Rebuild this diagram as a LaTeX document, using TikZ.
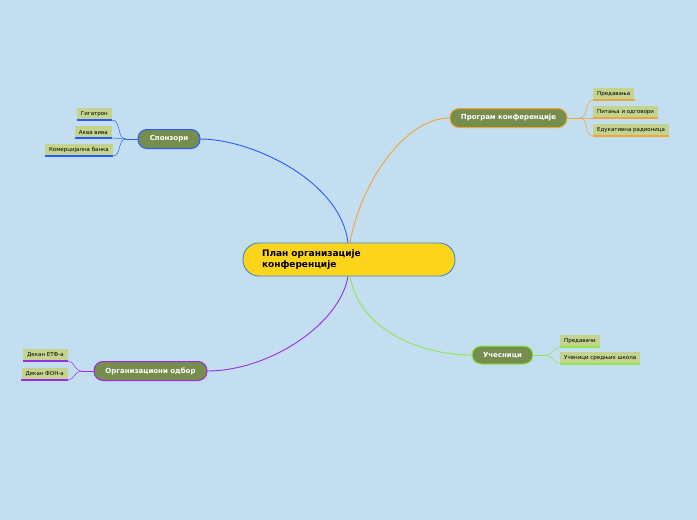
\documentclass[tikz,border=0pt]{standalone}
\usepackage{fontspec}
\setmainfont{DejaVu Sans}
\usetikzlibrary{positioning,calc}
\definecolor{bgBlue}{HTML}{C3DEF1}
\definecolor{mainYellow}{HTML}{FCD41C}
\definecolor{mainBorder}{HTML}{3C8FC6}
\definecolor{branchOlive}{HTML}{778D4E}
\definecolor{leafGreen}{HTML}{C4D48E}
\definecolor{lineBlue}{HTML}{2A5BFF}
\definecolor{lineOrange}{HTML}{F2A534}
\definecolor{linePurple}{HTML}{9C2BEA}
\definecolor{lineGreen}{HTML}{8EE84A}

\begin{document}
\begin{tikzpicture}[
    x=1pt, y=1pt,
    mainNode/.style={draw=mainBorder, line width=0.9pt, fill=mainYellow, rounded corners=16pt,
        minimum width=212pt, minimum height=33pt, text width=174pt, inner xsep=19pt,
        align=left, font=\fontsize{9}{11.5}\selectfont\bfseries},
    branchNode/.style={line width=1pt, fill=branchOlive, rounded corners=9pt, text=white,
        minimum height=19pt, inner xsep=0pt, font=\fontsize{7}{8}\selectfont\bfseries},
    leafNode/.style={fill=leafGreen, minimum height=11.5pt, inner xsep=4pt, inner ysep=0pt,
        font=\fontsize{5.5}{6}\selectfont},
    link/.style={line width=0.9pt},
    twig/.style={line width=0.5pt},
    under/.style={line width=1.3pt}
]
    % Sfondo
    \fill[bgBlue] (0,0) rectangle (697,-520);

    % Nodo centrale
    \node[mainNode] (main) at (349,-259.5) {План организације\\конференције};

    % Rami principali
    \node[branchNode, draw=lineBlue, minimum width=62pt] (spon) at (169,-139) {Спонзори};
    \node[branchNode, draw=lineOrange, minimum width=117pt] (prog) at (508.5,-118) {Програм конференције};
    \node[branchNode, draw=linePurple, minimum width=113pt] (org) at (150.5,-371) {Организациони одбор};
    \node[branchNode, draw=lineGreen, minimum width=61pt, minimum height=18pt] (uces) at (502.5,-355) {Учесници};

    % Collegamenti dal centro
    \draw[link, lineBlue] ($(main.north)+(-1,0)$) to[out=97, in=0, out distance=63, in distance=50] (spon.east);
    \draw[link, lineOrange] ($(main.north)+(1,0)$) to[out=80, in=180, out distance=60, in distance=45] (prog.west);
    \draw[link, linePurple] ($(main.south)+(-1,0)$) to[out=-100, in=0, out distance=50, in distance=60] (org.east);
    \draw[link, lineGreen] ($(main.south)+(1,0)$) to[out=-80, in=180, out distance=55, in distance=50] (uces.west);

    % Foglie: Спонзори
    \node[leafNode, anchor=south east] (gig) at (112,-120) {Гигатрон};
    \node[leafNode, anchor=south east] (akva) at (112,-138) {Аква вива};
    \node[leafNode, anchor=south east] (kom) at (113,-156) {Комерцијална банка};
    \coordinate (jSpon) at (126,-139);
    \draw[twig, lineBlue] (spon.west) -- (jSpon);
    \foreach \leaf in {gig, akva, kom} {
        \draw[twig, lineBlue] (jSpon) to[out=180, in=0] (\leaf.south east);
        \draw[under, lineBlue] (\leaf.south west) -- (\leaf.south east);
    }

    % Foglie: Програм конференције
    \node[leafNode, anchor=south west] (pred) at (593,-100) {Предавања};
    \node[leafNode, anchor=south west] (pit) at (593,-118) {Питања и одговори};
    \node[leafNode, anchor=south west] (eduk) at (593,-136) {Едукативна радионица};
    \coordinate (jProg) at (580,-118);
    \draw[twig, lineOrange] (prog.east) -- (jProg);
    \foreach \leaf in {pred, pit, eduk} {
        \draw[twig, lineOrange] (jProg) to[out=0, in=180] (\leaf.south west);
        \draw[under, lineOrange] (\leaf.south west) -- (\leaf.south east);
    }

    % Foglie: Организациони одбор
    \node[leafNode, anchor=south east] (etf) at (68,-361) {Декан ЕТФ-а};
    \node[leafNode, anchor=south east] (fon) at (68,-380) {Декан ФОН-а};
    \coordinate (jOrg) at (81,-371);
    \draw[twig, linePurple] (org.west) -- (jOrg);
    \foreach \leaf in {etf, fon} {
        \draw[twig, linePurple] (jOrg) to[out=180, in=0] (\leaf.south east);
        \draw[under, linePurple] (\leaf.south west) -- (\leaf.south east);
    }

    % Foglie: Учесници
    \node[leafNode, anchor=south west] (predv) at (560,-347) {Предавачи};
    \node[leafNode, anchor=south west] (ucen) at (560,-364) {Ученици средњих школа};
    \coordinate (jUces) at (546,-355);
    \draw[twig, lineGreen] (uces.east) -- (jUces);
    \foreach \leaf in {predv, ucen} {
        \draw[twig, lineGreen] (jUces) to[out=0, in=180] (\leaf.south west);
        \draw[under, lineGreen] (\leaf.south west) -- (\leaf.south east);
    }
\end{tikzpicture}
\end{document}
